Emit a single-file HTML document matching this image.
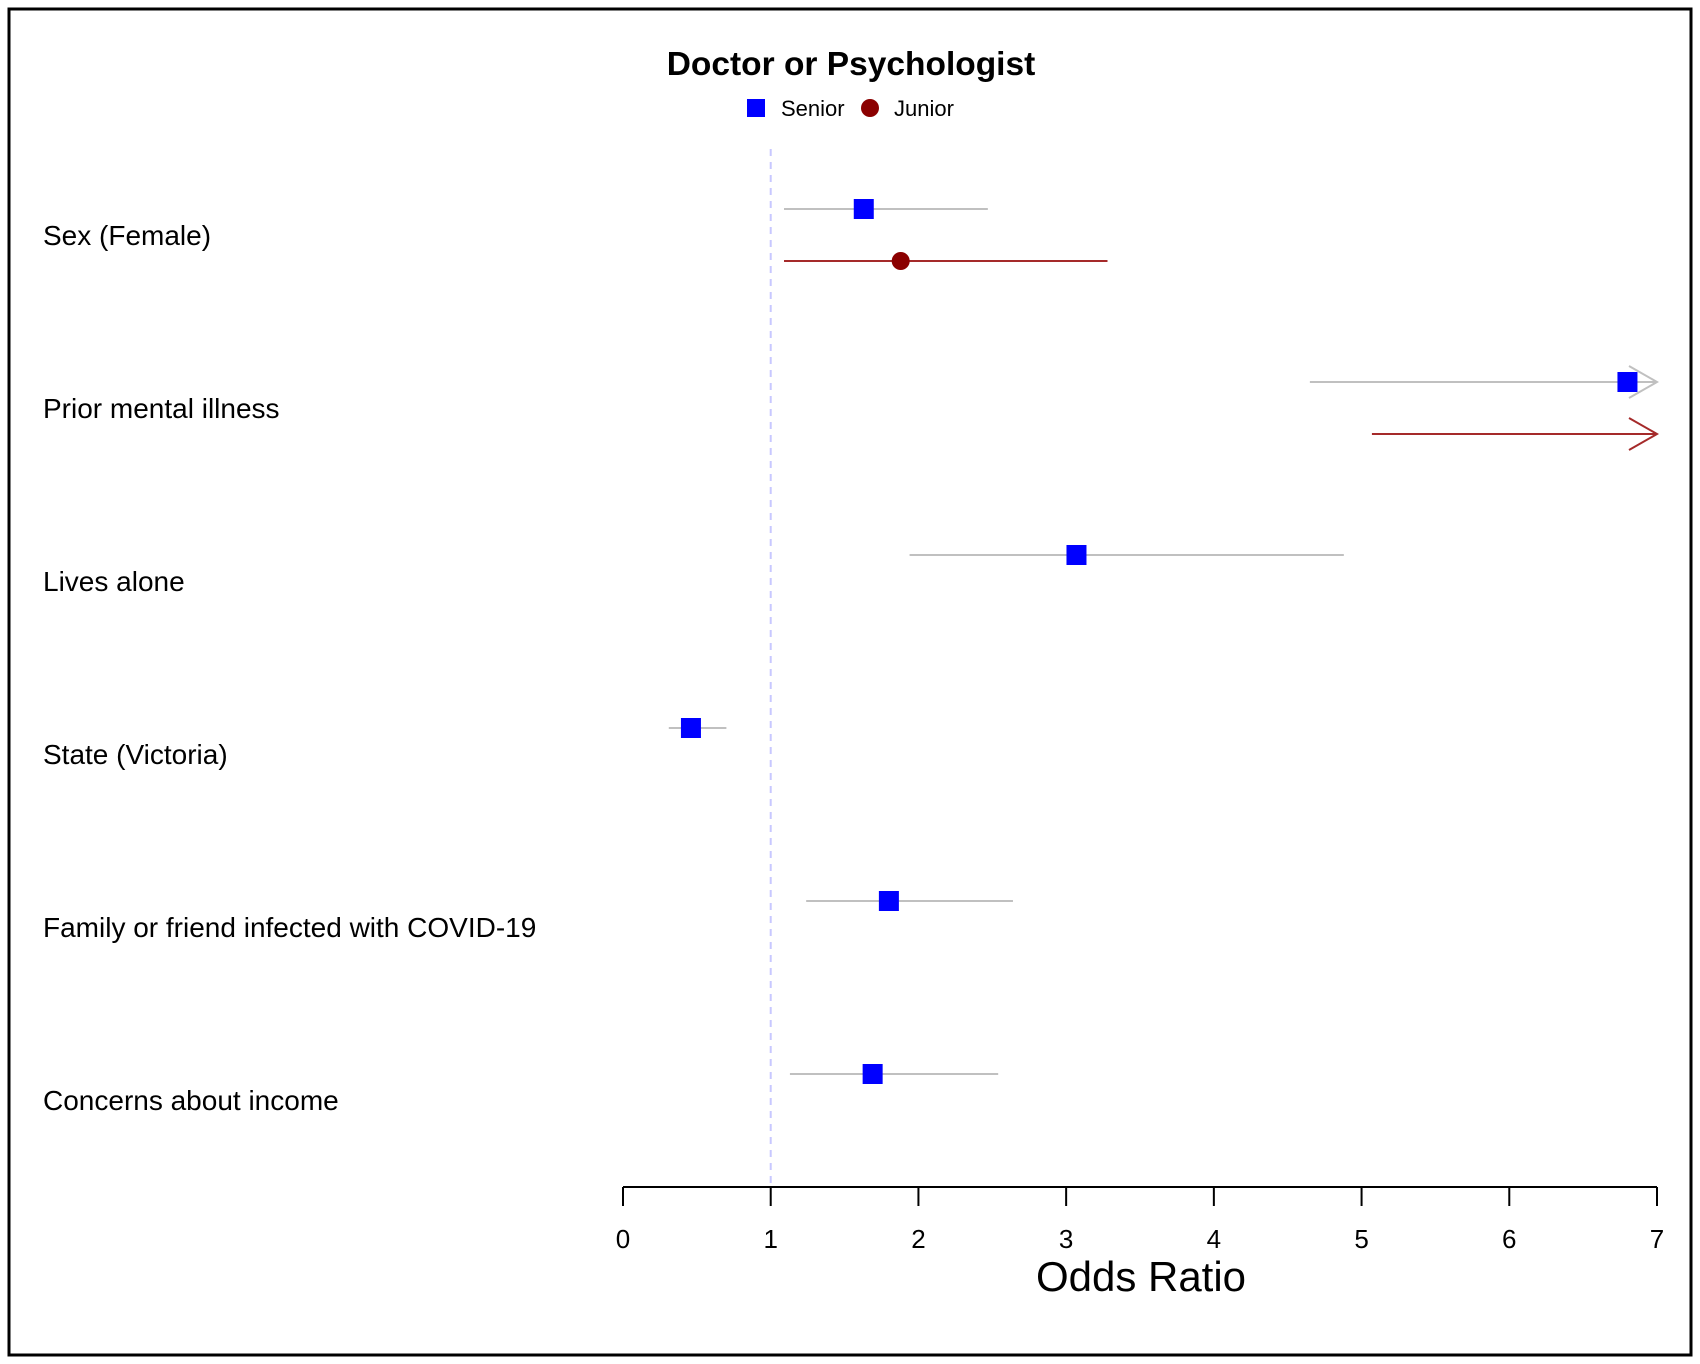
<!DOCTYPE html>
<html><head><meta charset="utf-8"><style>
body{margin:0;background:#fff;}
svg{display:block;font-family:"Liberation Sans",Arial,sans-serif;}
</style></head><body>
<svg id="chart" width="1700" height="1364">
<rect x="9" y="9" width="1682" height="1346" fill="none" stroke="#000" stroke-width="3"/>
<text x="851" y="75" font-size="33.5" font-weight="bold" text-anchor="middle">Doctor or Psychologist</text>
<g>
<rect x="747" y="99" width="18" height="18" fill="#0000ff"/>
<text x="781" y="116" font-size="22">Senior</text>
<circle cx="870" cy="108" r="9" fill="#8b0000"/>
<text x="894" y="116" font-size="22">Junior</text>
</g>
<g id="plot"></g>
</svg>
<script>
const categories=["Sex (Female)","Prior mental illness","Lives alone","State (Victoria)","Family or friend infected with COVID-19","Concerns about income"];
const seniorOR=[1.63,6.8,3.07,0.46,1.8,1.69];
const seniorLo=[1.09,4.65,1.94,0.31,1.24,1.13];
const seniorHi=[2.47,7.5,4.88,0.70,2.64,2.54];
const juniorOR=[1.88,8.0,null,null,null,null];
const juniorLo=[1.09,5.07,null,null,null,null];
const juniorHi=[3.28,9.0,null,null,null,null];
const ticks=[0,1,2,3,4,5,6,7];
const xMax=7;
const NS="http://www.w3.org/2000/svg";
const g=document.getElementById("plot");
const x=v=>623+v*(1657-623)/7;
const rowY=i=>209+i*173;
function mk(t,a){const e=document.createElementNS(NS,t);for(const k in a)e.setAttribute(k,a[k]);g.appendChild(e);return e;}
let e=mk("line",{x1:x(1),x2:x(1),y1:149,y2:1187,stroke:"#c8c8ff","stroke-width":2,"stroke-dasharray":"7,6"});


e=mk("line",{x1:x(0),x2:x(7),y1:1187,y2:1187,stroke:"#000","stroke-width":2});


ticks.forEach(t=>{
 let l=mk("line",{x1:x(t),x2:x(t),y1:1187,y2:1206,stroke:"#000","stroke-width":2});
 
 
 let tx=mk("text",{x:x(t),y:1248,"font-size":26,"text-anchor":"middle"});tx.textContent=t;
 
 
});
e=mk("text",{x:1141,y:1291,"font-size":42,"text-anchor":"middle"});e.textContent="Odds Ratio";


function ci(lo,hi,y,col,name){
 const clipped=hi>xMax;
 const l=mk("line",{x1:x(lo),x2:x(Math.min(hi,xMax)),y1:y,y2:y,stroke:col,"stroke-width":2});
 
 
 if(clipped){
  const a=mk("polyline",{points:`${x(xMax)-28},${y-16} ${x(xMax)},${y} ${x(xMax)-28},${y+16}`,fill:"none",stroke:col,"stroke-width":2});
  
  
 }
}
categories.forEach((c,i)=>{
 const y=rowY(i);
 const t=mk("text",{x:43,y:y+36,"font-size":28});t.textContent=c;
 
 
 ci(seniorLo[i],seniorHi[i],y,"#c0c0c0","senior-ci");
 if(seniorOR[i]<=xMax){
  const s=mk("rect",{x:x(seniorOR[i])-10,y:y-10,width:20,height:20,fill:"#0000ff"});
  
  
 }
 if(juniorOR[i]!==null){
  const jy=y+52;
  ci(juniorLo[i],juniorHi[i],jy,"#a52a2a","junior-ci");
  if(juniorOR[i]<=xMax){
   const c2=mk("circle",{cx:x(juniorOR[i]),cy:jy,r:9,fill:"#8b0000"});
   
   
  }
 }
});
</script>
</body></html>
